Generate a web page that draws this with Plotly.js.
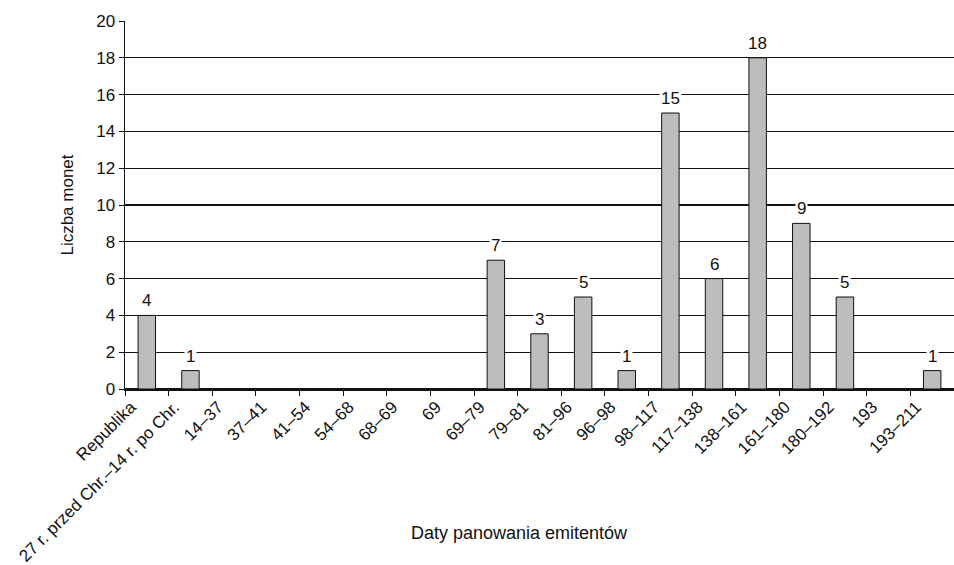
<!DOCTYPE html>
<html>
<head>
<meta charset="utf-8">
<script src="https://cdn.plot.ly/plotly-3.0.1.min.js"></script>
<style>html,body{margin:0;padding:0;background:#fff;}#chart{width:954px;height:565px;}</style>
</head>
<body>
<div id="chart"></div>
<script>
const categories = ["Republika", "27 r. przed Chr.–14 r. po Chr.", "14–37", "37–41", "41–54", "54–68", "68–69", "69", "69–79", "79–81", "81–96", "96–98", "98–117", "117–138", "138–161", "161–180", "180–192", "193", "193–211"];
const coinCounts = [4, 1, 0, 0, 0, 0, 0, 0, 7, 3, 5, 1, 15, 6, 18, 9, 5, 0, 1];
const yTitle = "Liczba monet";
const xTitle = "Daty panowania emitentów";

const FONT = "Liberation Sans, Arial, Helvetica, sans-serif";

const trace = {
  type: "bar",
  x: categories,
  y: coinCounts,
  width: 0.4,
  marker: { color: "#bdbdbd", line: { color: "#111", width: 1 } },
  hoverinfo: "x+y"
};

const annotations = [];
categories.forEach((c, i) => {
  if (coinCounts[i] > 0) {
    annotations.push({
      x: c, y: coinCounts[i], xref: "x", yref: "y",
      text: String(coinCounts[i]), showarrow: false,
      yanchor: "bottom", yshift: 3,
      bgcolor: "#ffffff", borderpad: 1,
      font: { family: FONT, size: 17, color: "#111" }
    });
  }
});
annotations.push({
  xref: "paper", yref: "paper", x: 0.476, y: -0.391,
  xanchor: "center", yanchor: "middle", showarrow: false,
  text: xTitle, font: { family: FONT, size: 18, color: "#111" }
});

const layout = {
  width: 954, height: 565,
  margin: { l: 125, r: 0, t: 21, b: 176 },
  paper_bgcolor: "#fff", plot_bgcolor: "#fff",
  showlegend: false,
  font: { family: FONT, color: "#111" },
  xaxis: {
    type: "category",
    range: [-0.5, 18.5],
    tickson: "boundaries",
    ticks: "outside", ticklen: 5, tickwidth: 1, tickcolor: "#111",
    showline: true, linecolor: "#111", linewidth: 1.5,
    showgrid: false,
    tickangle: -45,
    ticklabelshift: -16,
    tickfont: { family: FONT, size: 17, color: "#111" },
    automargin: false
  },
  yaxis: {
    range: [0, 20], dtick: 2, tick0: 0,
    ticks: "outside", ticklen: 5, tickwidth: 1, tickcolor: "#111",
    showline: true, linecolor: "#111", linewidth: 1.5,
    showgrid: true, gridcolor: "#111", gridwidth: 1.2,
    zeroline: true, zerolinecolor: "#111", zerolinewidth: 1.5,
    tickfont: { family: FONT, size: 17, color: "#111" },
    title: { text: yTitle, font: { family: FONT, size: 17, color: "#111" }, standoff: 18 },
    automargin: false
  },
  annotations: annotations,
  bargap: 0.6
};

Plotly.newPlot("chart", [trace], layout, { displayModeBar: false, staticPlot: true });
</script>
</body>
</html>
